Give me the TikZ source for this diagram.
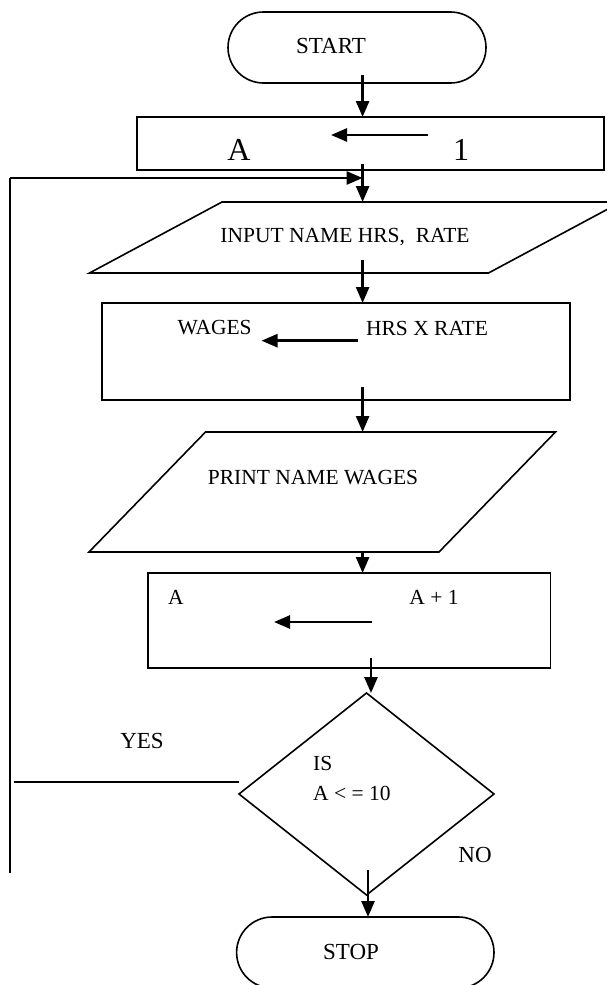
\documentclass[tikz,border=0pt]{standalone}
\usepackage{fontspec}
\setmainfont{Liberation Serif}
\usetikzlibrary{arrows.meta, shapes.geometric, shapes.misc, calc}

\begin{document}
\begin{tikzpicture}[x=1pt, y=-1pt, >={Triangle[length=16pt, width=13pt]},
    shapeline/.style={draw, line width=1.6pt, inner sep=0pt, outer sep=0pt},
    terminal/.style={shapeline, rounded rectangle, minimum width=258pt, minimum height=71pt},
    process/.style={shapeline, rectangle},
    io/.style={shapeline, rectangle, transform shape},
    decision/.style={shapeline, diamond, minimum width=255pt, minimum height=202pt},
    flow/.style={->, line width=2.6pt},
    link/.style={line width=2pt},
    txt/.style={font=\fontsize{21.5}{26}\selectfont, inner sep=0pt},
    big/.style={font=\fontsize{32}{36}\selectfont, inner sep=0pt},
    lbl/.style={font=\fontsize{23}{27}\selectfont, inner sep=0pt}]
  \useasboundingbox (0,0) rectangle (607,985);

  % Start terminal
  \node[terminal] (start) at (357,47.5) {};
  \node[lbl] (startlbl) at (331,46) {START};

  % A <- 1
  \node[process, minimum width=467pt, minimum height=53pt] (init) at (370.5,143.5) {};
  \node[big] (initA) at (239,150) {A};
  \node[big] (initB) at (461,150) {1};
  \coordinate (initR) at (428,135);
  \coordinate (initL) at (331,135);
  \draw[flow] (initR) -- (initL);

  % Input
  \node[io, minimum width=399pt, minimum height=71pt, xslant=1.866] (input) at (355.25,237.5) {};
  \node[txt] (inputlbl) at (345,237) {INPUT NAME HRS, \ RATE};

  % Wages <- hrs x rate
  \node[process, minimum width=468pt, minimum height=97pt] (calc) at (336,351.5) {};
  \node[txt] (calcL) at (214.6,328) {WAGES};
  \node[txt] (calcR) at (427,328) {HRS X RATE};
  \coordinate (calcAR) at (358,340.7);
  \coordinate (calcAL) at (261.5,340.7);
  \draw[flow] (calcAR) -- (calcAL);

  % Output
  \node[io, minimum width=350pt, minimum height=120pt, xslant=0.971] (output) at (322.25,492) {};
  \node[txt] (outputlbl) at (313,478) {PRINT NAME WAGES};

  % A <- A + 1
  \node[process, minimum width=402.6pt, minimum height=95pt] (incr) at (349.3,620.5) {};
  \node[txt] (incrL) at (176,597) {A};
  \node[txt] (incrR) at (434,597) {A + 1};
  \coordinate (incrAR) at (372,622);
  \coordinate (incrAL) at (274,622);
  \draw[flow] (incrAR) -- (incrAL);

  % Decision
  \node[decision] (test) at (366.5,794) {};
  \node[txt, align=left, anchor=west, font=\fontsize{21.5}{30}\selectfont] (testlbl) at (313,778) {IS\\A < = 10};

  % Stop terminal
  \node[terminal, minimum width=257.4pt] (stop) at (365.3,952.5) {};
  \node[lbl] (stoplbl) at (351,952) {STOP};

  % Branch labels
  \node[lbl] (yes) at (142,741) {YES};
  \node[lbl] (no) at (475,855) {NO};

  % Main flow
  \coordinate (spine) at (362.6,0);
  \coordinate (spineB) at (371,0);
  \coordinate (spineC) at (368,0);
  \draw[flow] ($(start.south -| spine)+(0,-8)$) -- (init.north -| spine);
  \draw[flow] ($(init.south -| spine)+(0,-6)$) -- (input.north -| spine);
  \draw[flow] ($(input.south -| spine)+(0,-13)$) -- (calc.north -| spine);
  \draw[flow] ($(calc.south -| spine)+(0,-13)$) -- (output.north -| spine);
  \draw[flow] (output.south -| spine) -- (incr.north -| spine);
  \draw[flow] ($(incr.south -| spineB)+(0,-10)$) -- (test.north -| spineB);
  \draw[flow] ($(test.south -| spineC)+(0,-25)$) -- (stop.north -| spineC);

  % Loop back
  \coordinate (loopB) at (10,873);
  \coordinate (loopT) at (10,178);
  \coordinate (yesL) at (13.6,782);
  \draw[link] (loopB) -- (loopT);
  \draw[flow] (loopT) -- (loopT -| spine);
  \draw[link] (yesL) -- (yesL -| test.west);
\end{tikzpicture}
\end{document}
